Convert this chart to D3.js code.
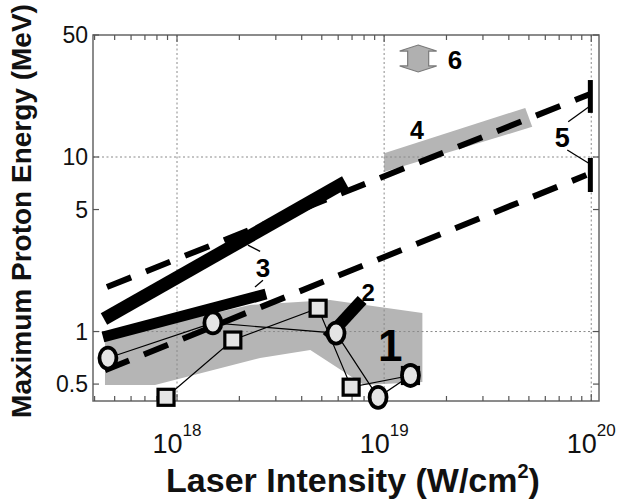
<!DOCTYPE html>
<html>
<head>
<meta charset="utf-8">
<script src="https://cdn.jsdelivr.net/npm/d3@7"></script>
<style>
body { margin: 0; background: #fff; }
text { font-family: "Liberation Sans", Arial, sans-serif; }
</style>
</head>
<body>
<svg id="chart" width="644" height="501"></svg>
<script>
// axis domains and ticks
const xDomain = [3.93e17, 1.09e20];
const yDomain = [0.4, 50];
const xMajor = [1e18, 1e19, 1e20];
const xExponents = ['18', '19', '20'];
const yTicks = [0.5, 1, 5, 10, 50];
const yTickLabels = ['0.5', '1', '5', '10', '50'];
const yGrid = [1, 10];

// measured points (intensity W/cm2, energy MeV)
const circleSeries = [[4.64e17, 0.705], [1.49e18, 1.12], [5.86e18, 0.98], [9.35e18, 0.42], [1.34e19, 0.56]];
const squareSeries = [[8.85e17, 0.42], [1.86e18, 0.894], [4.8e18, 1.36], [6.93e18, 0.48], [1.34e19, 0.56]];

// shaded region 1 and band 4
const region1 = [[4.49e17, 0.918], [2.25e18, 1.42], [5.48e18, 1.515], [1.53e19, 1.276], [1.53e19, 0.514],
                 [8.0e18, 0.494], [4.4e18, 0.783], [2.52e18, 0.705], [7.83e17, 0.494], [4.49e17, 0.494]];
const band4 = [[1e19, 10.5], [4.8e19, 19.1], [5.19e19, 14.9], [1e19, 8.2]];

// scaling laws (dashed)
const scalingUpper = [[4.59e17, 1.80], [9.89e19, 22.96]];
const scalingLower = [[4.49e17, 0.60], [9.47e19, 7.88]];

// thick bands 3 and 2
const band3Upper = [[4.44e17, 1.18], [6.49e18, 7.19]];
const band3Lower = [[4.39e17, 0.93], [2.69e18, 1.64]];
const band2 = [[5.31e18, 0.918], [7.83e18, 1.515]];

// bars 5 and range 6
const bars5X = 9.9e19;
const bars5 = [[17.9, 27.6], [6.3, 9.87]];
const range6X = 1.46e19;
const range6Y = [30.7, 43.8];

// annotation labels and leader lines
const labels = ['1', '2', '3', '4', '5', '6'];
const labelPos = [[1.07e19, 0.837], [8.37e18, 1.68], [2.6e18, 2.31], [1.44e19, 14.3], [7.24e19, 13.0], [2.2e19, 36.0]];
const leaders = [
    [[2.2e18, 3.13], [2.52e18, 2.88]],
    [[2.38e18, 1.80], [2.6e18, 1.97]],
    [[7.74e19, 15.9], [9.68e19, 19.3]],
    [[7.66e19, 10.97], [9.68e19, 9.24]]
];

const width = 644, height = 501;
const margin = {top: 35, right: 45, bottom: 100, left: 93};
const grayFill = '#b5b5b5';

const svg = d3.select('#chart');

const x = d3.scaleLog().domain(xDomain).range([margin.left, width - margin.right]);
const y = d3.scaleLog().domain(yDomain).range([height - margin.bottom, margin.top]);
const line = d3.line().x(d => x(d[0])).y(d => y(d[1]));

const plotTop = margin.top, plotBottom = height - margin.bottom;
const plotLeft = margin.left, plotRight = width - margin.right;

// gray areas
svg.append('path').attr('d', line(region1) + 'Z').attr('fill', grayFill);
svg.append('path').attr('d', line(band4) + 'Z').attr('fill', grayFill);

// grid
svg.selectAll('.xgrid')
    .data(xMajor)
    .join('line')
    .attr('class', 'xgrid')
    .attr('x1', d => x(d)).attr('x2', d => x(d))
    .attr('y1', plotTop).attr('y2', plotBottom)
    .attr('stroke', '#8a8a8a').attr('stroke-width', 1)
    .attr('stroke-dasharray', '2,2.5');

svg.selectAll('.ygrid')
    .data(yGrid)
    .join('line')
    .attr('class', 'ygrid')
    .attr('x1', plotLeft).attr('x2', plotRight)
    .attr('y1', d => y(d)).attr('y2', d => y(d))
    .attr('stroke', '#8a8a8a').attr('stroke-width', 1)
    .attr('stroke-dasharray', '2,2.5');

// frame
svg.append('rect')
    .attr('x', plotLeft).attr('y', plotTop)
    .attr('width', plotRight - plotLeft).attr('height', plotBottom - plotTop)
    .attr('fill', 'none').attr('stroke', '#666').attr('stroke-width', 1.5);

// x ticks (top and bottom, inward)
const xt = x.ticks().filter(d => d >= xDomain[0] && d <= xDomain[1]);
const isMajor = d => Math.abs(Math.log10(d) - Math.round(Math.log10(d))) < 1e-6;
[[plotBottom, -1], [plotTop, 1]].forEach(([y0, dir]) => {
    svg.append('g')
        .selectAll('line')
        .data(xt)
        .join('line')
        .attr('x1', d => x(d)).attr('x2', d => x(d))
        .attr('y1', y0).attr('y2', d => y0 + dir * (isMajor(d) ? 7 : 5))
        .attr('stroke', '#555').attr('stroke-width', 1.2);
});

// y ticks (left and right, inward)
[[plotLeft, 1], [plotRight, -1]].forEach(([x0, dir]) => {
    svg.append('g')
        .selectAll('line')
        .data(yTicks)
        .join('line')
        .attr('x1', x0).attr('x2', x0 + dir * 6)
        .attr('y1', d => y(d)).attr('y2', d => y(d))
        .attr('stroke', '#555').attr('stroke-width', 1.2);
});

// x tick labels
svg.selectAll('.xlabel')
    .data(xMajor)
    .join('text')
    .attr('class', 'xlabel')
    .attr('x', d => x(d))
    .attr('y', 453)
    .attr('text-anchor', 'middle')
    .attr('font-size', 27)
    .attr('fill', '#111')
    .each(function(d, i) {
        const t = d3.select(this);
        t.append('tspan').text('10');
        t.append('tspan').attr('font-size', 17).attr('dy', -17).text(xExponents[i]);
    });

// y tick labels
svg.selectAll('.ylabel')
    .data(yTicks)
    .join('text')
    .attr('class', 'ylabel')
    .attr('x', 88)
    .attr('y', d => y(d) + 8)
    .attr('text-anchor', 'end')
    .attr('font-size', 23)
    .attr('fill', '#111')
    .text((d, i) => yTickLabels[i]);

// dashed scaling lines
svg.selectAll('.scaling')
    .data([scalingUpper, scalingLower])
    .join('path')
    .attr('class', 'scaling')
    .attr('d', line)
    .attr('fill', 'none')
    .attr('stroke', '#000')
    .attr('stroke-width', 6)
    .attr('stroke-dasharray', '26,16');

// thick black bands
const bandWidths = [13, 11, 12];
svg.selectAll('.band')
    .data([band3Upper, band3Lower, band2])
    .join('path')
    .attr('class', 'band')
    .attr('d', line)
    .attr('fill', 'none')
    .attr('stroke', '#000')
    .attr('stroke-width', (d, i) => bandWidths[i]);

// bars 5
svg.selectAll('.bar5')
    .data(bars5)
    .join('line')
    .attr('class', 'bar5')
    .attr('x1', x(bars5X)).attr('x2', x(bars5X))
    .attr('y1', d => y(d[0])).attr('y2', d => y(d[1]))
    .attr('stroke', '#000').attr('stroke-width', 5);

// leader lines
svg.selectAll('.leader')
    .data(leaders)
    .join('path')
    .attr('class', 'leader')
    .attr('d', line)
    .attr('stroke', '#000').attr('stroke-width', 1.3);

// connecting lines
svg.selectAll('.series')
    .data([circleSeries, squareSeries])
    .join('path')
    .attr('class', 'series')
    .attr('d', line)
    .attr('fill', 'none')
    .attr('stroke', '#000').attr('stroke-width', 1.2);

// markers
const sq = 16;
svg.selectAll('.sq')
    .data(squareSeries)
    .join('rect')
    .attr('class', 'sq')
    .attr('x', d => x(d[0]) - sq / 2).attr('y', d => y(d[1]) - sq / 2)
    .attr('width', sq).attr('height', sq)
    .attr('fill', '#e4e4e4').attr('stroke', '#000').attr('stroke-width', 3.2);

svg.selectAll('.circ')
    .data(circleSeries)
    .join('ellipse')
    .attr('class', 'circ')
    .attr('cx', d => x(d[0])).attr('cy', d => y(d[1]))
    .attr('rx', 8.5).attr('ry', 10.5)
    .attr('fill', '#e4e4e4').attr('stroke', '#000').attr('stroke-width', 3.8);

// range 6 double arrow
const cx6 = x(range6X), yt6 = y(range6Y[1]), yb6 = y(range6Y[0]);
const hw = 18.5, bw = 10.5, hh = 6;
svg.append('path')
    .attr('d', `M${cx6},${yt6} L${cx6 + hw},${yt6 + hh} L${cx6 + bw},${yt6 + hh} L${cx6 + bw},${yb6 - hh}
        L${cx6 + hw},${yb6 - hh} L${cx6},${yb6} L${cx6 - hw},${yb6 - hh} L${cx6 - bw},${yb6 - hh}
        L${cx6 - bw},${yt6 + hh} L${cx6 - hw},${yt6 + hh} Z`)
    .attr('fill', '#b0b0b0').attr('stroke', '#7a7a7a').attr('stroke-width', 1.2);

// annotation labels
const labelSizes = [44, 24, 26, 25, 27, 26];
svg.selectAll('.anno')
    .data(labels)
    .join('text')
    .attr('class', 'anno')
    .attr('x', (d, i) => x(labelPos[i][0]))
    .attr('y', (d, i) => y(labelPos[i][1]))
    .attr('dy', '0.36em')
    .attr('text-anchor', 'middle')
    .attr('font-weight', 'bold')
    .attr('font-size', (d, i) => labelSizes[i])
    .text(d => d);

// axis titles
const xTitle = svg.append('text')
    .attr('x', 353).attr('y', 492)
    .attr('text-anchor', 'middle')
    .attr('font-weight', 'bold')
    .attr('font-size', 34)
    .attr('fill', '#111');
xTitle.append('tspan').text('Laser Intensity (W/cm');
xTitle.append('tspan').attr('font-size', 20).attr('dy', -14).text('2');
xTitle.append('tspan').attr('dy', 14).text(')');

svg.append('text')
    .attr('transform', 'translate(31,211) rotate(-90)')
    .attr('text-anchor', 'middle')
    .attr('font-weight', 'bold')
    .attr('font-size', 28)
    .attr('fill', '#111')
    .text('Maximum Proton Energy (MeV)');
</script>
</body>
</html>
